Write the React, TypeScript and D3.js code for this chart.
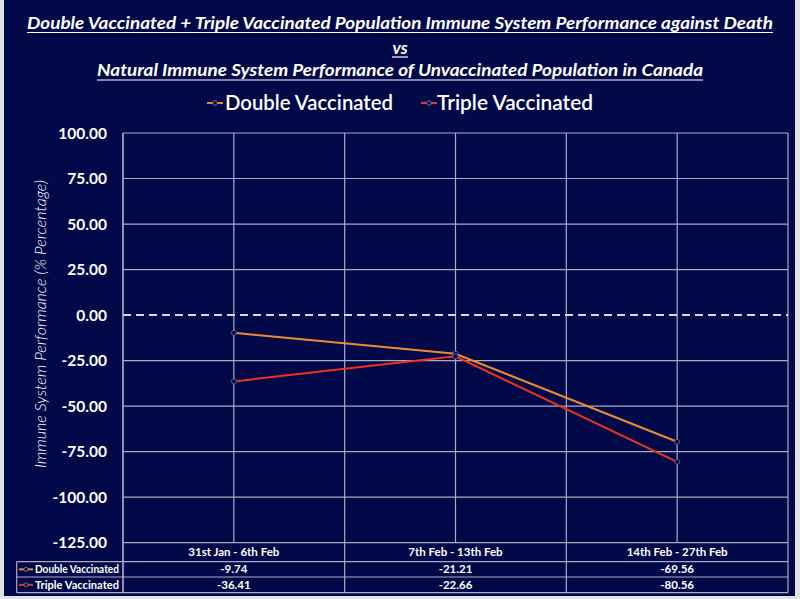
import React from "react";
import * as d3 from "d3";

const categories = ["31st Jan - 6th Feb", "7th Feb - 13th Feb", "14th Feb - 27th Feb"];
const doubleVaccinated = [-9.74, -21.21, -69.56];
const tripleVaccinated = [-36.41, -22.66, -80.56];
const seriesNames = ["Double Vaccinated", "Triple Vaccinated"];
const yTicks = [100, 75, 50, 25, 0, -25, -50, -75, -100, -125];

const W = 800;
const H = 599;
const BG = "#020948";
const GRID = "#a9abc4";
const FONT = "Lato, 'Open Sans', sans-serif";
const COLORS = ["#ee8a34", "#f2321c"];

export default function App() {
  const plotL = 123;
  const plotR = 788;
  const plotT = 133;
  const plotB = 542.7;
  const x = d3.scaleBand<string>().domain(categories).range([plotL, plotR]).padding(0);
  const y = d3.scaleLinear().domain([-125, 100]).range([plotB, plotT]);
  const bw = x.bandwidth();
  const series = [doubleVaccinated, tripleVaccinated];
  const line = d3
    .line<number>()
    .x((_, i) => (x(categories[i]) as number) + bw / 2)
    .y((d) => y(d));

  const rowH = [561.7, 577, 592.7];
  const fmt = (v: number) => v.toFixed(2);

  return (
    <svg
      width={W}
      height={H}
      style={{ position: "absolute", left: 0, top: 0, display: "block" }}
      fontFamily={FONT}
    >
      <rect x={0} y={0} width={W} height={H} fill="#e2e2e4" />
      <rect x={4} y={0} width={791} height={596} fill={BG} />

      {/* Titles */}
      <g fill="#ffffff" fontStyle="italic" fontWeight={700} textAnchor="middle">
        <text x={400} y={29} fontSize={17} textLength={746} lengthAdjust="spacingAndGlyphs">
          Double Vaccinated + Triple Vaccinated Population Immune System Performance against Death
        </text>
        <line x1={27} x2={773} y1={32.5} y2={32.5} stroke="#fff" strokeWidth={1.2} />
        <text x={400} y={54} fontSize={17}>vs</text>
        <line x1={392} x2={408} y1={57} y2={57} stroke="#fff" strokeWidth={1.2} />
        <text x={400} y={76} fontSize={17} textLength={606} lengthAdjust="spacingAndGlyphs">
          Natural Immune System Performance of Unvaccinated Population in Canada
        </text>
        <line x1={97} x2={703} y1={80} y2={80} stroke="#fff" strokeWidth={1.2} />
      </g>

      {/* Legend */}
      {seriesNames.map((name, i) => {
        const lx = i === 0 ? 207 : 421;
        const tx = i === 0 ? 225 : 437;
        const tl = i === 0 ? 168 : 156;
        return (
          <g key={name}>
            <line x1={lx} x2={lx + 16} y1={103} y2={103} stroke={COLORS[i]} strokeWidth={2} />
            <circle cx={lx + 8} cy={103} r={2.3} fill={BG} stroke="#70748e" strokeWidth={1} />
            <text x={tx} y={110} fontSize={20.5} fill="#fff" fontWeight={600} textLength={tl} lengthAdjust="spacingAndGlyphs">
              {name}
            </text>
          </g>
        );
      })}

      {/* Horizontal gridlines */}
      {yTicks.map((t) =>
        t === 0 ? null : (
          <line key={t} x1={plotL} x2={plotR} y1={y(t)} y2={y(t)} stroke={GRID} strokeWidth={1.2} />
        )
      )}
      {/* Vertical gridlines at category centers */}
      {categories.map((c) => (
        <line key={c} x1={(x(c) as number) + bw / 2} x2={(x(c) as number) + bw / 2} y1={plotT} y2={plotB} stroke={GRID} strokeWidth={1.2} />
      ))}
      {/* Vertical lines at category boundaries (extend into table) */}
      {categories.map((c) => (
        <line key={"b" + c} x1={x(c) as number} x2={x(c) as number} y1={plotT} y2={rowH[2]} stroke={GRID} strokeWidth={1.2} />
      ))}
      <line x1={plotR} x2={plotR} y1={plotT} y2={rowH[2]} stroke={GRID} strokeWidth={1.2} />
      {/* zero line */}
      <line x1={plotL} x2={plotR} y1={y(0)} y2={y(0)} stroke="#d6d8e8" strokeWidth={2} strokeDasharray="8,5" />

      {/* Y tick labels */}
      {yTicks.map((t) => (
        <text key={t} x={107} y={y(t)} dy="0.36em" textAnchor="end" fontSize={15.5} fontWeight={700} fill="#fff">
          {fmt(t)}
        </text>
      ))}

      {/* Y axis title */}
      <text
        transform={`translate(46,${324}) rotate(-90)`}
        textAnchor="middle"
        fontSize={15.5}
        fontStyle="italic"
        fontWeight={300}
        fill="#fff"
        textLength={288}
        lengthAdjust="spacingAndGlyphs"
      >
        Immune System Performance (% Percentage)
      </text>

      {/* Series lines */}
      {series.map((s, i) => (
        <path key={i} d={line(s) || ""} fill="none" stroke={COLORS[i]} strokeWidth={2} />
      ))}
      {series.map((s, i) =>
        s.map((v, j) => (
          <circle key={i + "-" + j} cx={(x(categories[j]) as number) + bw / 2} cy={y(v)} r={2.5} fill={BG} stroke="#5d6180" strokeWidth={1} />
        ))
      )}

      {/* Data table */}
      <line x1={16.7} x2={plotR} y1={rowH[0]} y2={rowH[0]} stroke={GRID} strokeWidth={1.2} />
      <line x1={16.7} x2={plotR} y1={rowH[1]} y2={rowH[1]} stroke={GRID} strokeWidth={1.2} />
      <line x1={16.7} x2={plotR} y1={rowH[2]} y2={rowH[2]} stroke={GRID} strokeWidth={1.2} />
      <line x1={16.7} x2={16.7} y1={rowH[0]} y2={rowH[2]} stroke={GRID} strokeWidth={1.2} />
      <line x1={plotL} x2={plotL} y1={plotT} y2={rowH[2]} stroke={GRID} strokeWidth={1.2} />

      {categories.map((c) => (
        <text key={"h" + c} x={(x(c) as number) + bw / 2} y={556} textAnchor="middle" fontSize={11.5} fontWeight={700} fill="#fff">
          {c}
        </text>
      ))}
      {series.map((s, i) => (
        <g key={"row" + i}>
          <line x1={19} x2={33} y1={(rowH[i] + rowH[i + 1]) / 2} y2={(rowH[i] + rowH[i + 1]) / 2} stroke={COLORS[i]} strokeWidth={2} />
          <circle cx={26} cy={(rowH[i] + rowH[i + 1]) / 2} r={2} fill={BG} stroke="#70748e" strokeWidth={1} />
          <text x={35} y={(rowH[i] + rowH[i + 1]) / 2} dy="0.36em" fontSize={11.5} fontWeight={700} fill="#fff" textLength={84} lengthAdjust="spacingAndGlyphs">
            {seriesNames[i]}
          </text>
          {s.map((v, j) => (
            <text key={j} x={(x(categories[j]) as number) + bw / 2} y={(rowH[i] + rowH[i + 1]) / 2} dy="0.36em" textAnchor="middle" fontSize={11.5} fontWeight={700} fill="#fff">
              {fmt(v)}
            </text>
          ))}
        </g>
      ))}
    </svg>
  );
}
